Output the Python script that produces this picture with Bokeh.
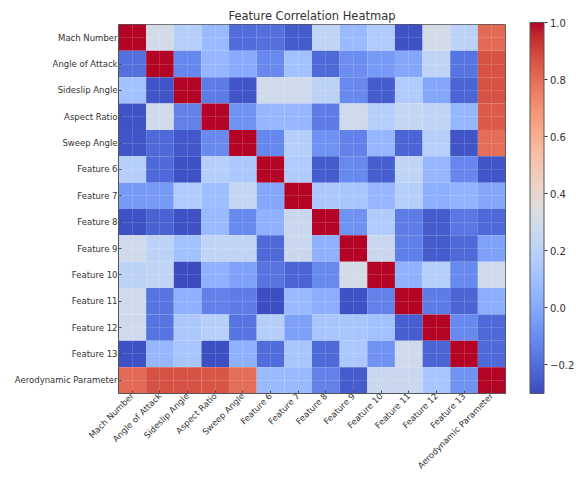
import numpy as np
from math import pi
from bokeh.plotting import figure
from bokeh.models import (LinearColorMapper, ColorBar, FixedTicker, CustomJSTickFormatter,
                          Label, ColumnDataSource)
from bokeh.transform import transform
from bokeh.embed import file_html
from bokeh.resources import INLINE

features = ["Mach Number", "Angle of Attack", "Sideslip Angle", "Aspect Ratio", "Sweep Angle",
            "Feature 6", "Feature 7", "Feature 8", "Feature 9", "Feature 10",
            "Feature 11", "Feature 12", "Feature 13", "Aerodynamic Parameter"]

row_mach      = [1.00, 0.30, 0.175, 0.075, -0.20, -0.19, -0.25, 0.22, 0.075, 0.16, -0.28, 0.30, 0.205, 0.81]
row_aoa       = [-0.19, 1.00, -0.12, 0.06, 0.005, -0.11, 0.105, -0.21, -0.095, -0.055, -0.01, 0.22, -0.175, 0.87]
row_sideslip  = [0.105, -0.27, 1.00, -0.155, -0.27, 0.28, 0.28, 0.205, -0.11, -0.25, 0.16, -0.01, -0.225, 0.87]
row_aspect    = [-0.275, 0.28, -0.135, 1.00, -0.08, 0.06, 0.06, -0.155, 0.28, 0.175, 0.24, 0.22, 0.06, 0.85]
row_sweep     = [-0.27, -0.21, -0.26, -0.11, 1.00, -0.12, 0.175, -0.08, -0.135, 0.06, -0.225, 0.19, -0.27, 0.80]
row_f6        = [0.175, -0.21, -0.28, 0.175, 0.145, 1.00, 0.16, -0.25, -0.11, -0.245, 0.22, 0.06, -0.12, -0.27]
row_f7        = [-0.055, -0.055, 0.16, 0.09, 0.24, -0.01, 1.00, 0.145, 0.13, 0.06, 0.175, 0.025, 0.045, -0.01]
row_f8        = [-0.28, -0.23, -0.28, 0.075, -0.11, 0.035, 0.26, 1.00, -0.08, 0.16, -0.155, -0.25, -0.165, -0.21]
row_f9        = [0.28, 0.205, 0.105, 0.22, 0.22, -0.21, 0.26, 0.035, 1.00, 0.26, -0.145, -0.25, -0.21, -0.03]
row_f10       = [0.205, 0.22, -0.30, 0.035, -0.03, -0.175, -0.225, -0.11, 0.30, 1.00, 0.035, 0.175, -0.11, 0.28]
row_f11       = [0.28, -0.175, 0.035, -0.135, -0.155, -0.29, 0.075, 0.015, -0.28, -0.135, 1.00, -0.155, -0.225, 0.015]
row_f12       = [0.28, -0.175, 0.145, 0.19, -0.175, 0.175, -0.035, 0.13, 0.13, 0.105, -0.245, 1.00, -0.11, -0.21]
row_f13       = [-0.28, 0.06, 0.13, -0.285, 0.035, -0.20, 0.13, -0.21, 0.145, -0.08, 0.28, -0.225, 1.00, -0.21]
row_aero      = [0.81, 0.87, 0.87, 0.86, 0.80, 0.075, 0.075, -0.135, -0.25, 0.26, 0.26, 0.13, -0.08, 1.00]

rows = [row_mach, row_aoa, row_sideslip, row_aspect, row_sweep, row_f6, row_f7, row_f8,
        row_f9, row_f10, row_f11, row_f12, row_f13, row_aero]

colorbar_ticks = [-0.2, 0.0, 0.2, 0.4, 0.6, 0.8, 1.0]

# coolwarm colormap (Moreland diverging) control points
_cw = [(59, 76, 192), (68, 90, 204), (77, 104, 215), (87, 117, 225), (98, 130, 234),
       (108, 142, 241), (119, 154, 247), (130, 165, 251), (141, 176, 254), (152, 185, 255),
       (163, 194, 255), (174, 201, 253), (184, 208, 249), (194, 213, 244), (204, 217, 238),
       (213, 219, 230), (221, 221, 221), (229, 216, 209), (236, 211, 197), (241, 204, 185),
       (245, 196, 173), (247, 187, 160), (247, 177, 148), (247, 166, 135), (244, 154, 123),
       (241, 141, 111), (236, 127, 99), (229, 112, 88), (222, 96, 77), (213, 80, 66),
       (203, 62, 56), (192, 40, 47), (180, 4, 38)]
_cw = np.array(_cw, dtype=float)
_t = np.linspace(0, 1, len(_cw))
_tt = np.linspace(0, 1, 256)
coolwarm = ["#%02x%02x%02x" % tuple(int(round(np.interp(t, _t, _cw[:, k]))) for k in range(3))
            for t in _tt]

xs, ys, vals = [], [], []
for i, r in enumerate(rows):
    for j, v in enumerate(r):
        xs.append(features[j])
        ys.append(features[i])
        vals.append(v)
source = ColumnDataSource(dict(x=xs, y=ys, v=vals))

vmin = min(vals)
mapper = LinearColorMapper(palette=coolwarm, low=vmin, high=1.0)

p = figure(width=582, height=477, x_range=features, y_range=list(reversed(features)),
           output_backend="svg", toolbar_location=None,
           min_border_left=118, min_border_right=77, min_border_top=24, min_border_bottom=82)

p.rect(x="x", y="y", width=1, height=1, source=source,
       fill_color=transform("v", mapper), line_color=None)

p.title.text = "Feature Correlation Heatmap"
p.title.align = "center"
p.title.text_font = "DejaVu Sans"
p.title.text_font_size = "11.5px"
p.title.text_font_style = "normal"
p.title.text_color = "#333333"
p.title.standoff = 4
p.title.offset = 0

for ax in (p.xaxis[0], p.yaxis[0]):
    ax.major_label_text_font = "DejaVu Sans"
    ax.major_label_text_font_size = "8.5px"
    ax.major_label_text_color = "#333333"
    ax.major_tick_in = 3
    ax.major_tick_out = 0
    ax.major_tick_line_color = "#333333"
    ax.axis_line_color = "#555555"
    ax.major_label_standoff = 1
p.xaxis.major_label_orientation = pi / 4

p.xgrid.grid_line_color = "white"
p.ygrid.grid_line_color = "white"
p.xgrid.grid_line_alpha = 0.35
p.ygrid.grid_line_alpha = 0.35
p.xgrid.grid_line_width = 0.6
p.ygrid.grid_line_width = 0.6
p.xgrid.grid_line_dash = "2 1"
p.ygrid.grid_line_dash = "2 1"
p.xgrid.level = "overlay"
p.ygrid.level = "overlay"
p.outline_line_color = "#555555"
p.background_fill_color = "white"

cb = ColorBar(color_mapper=mapper, width=14, height=371, margin=0, padding=0,
              location=(411.5, 0),
              ticker=FixedTicker(ticks=colorbar_ticks),
              formatter=CustomJSTickFormatter(code="return tick < 0 ? '\u2212' + Math.abs(tick).toFixed(1) : tick.toFixed(1);"),
              major_label_text_font="DejaVu Sans", major_label_text_font_size="10px",
              major_label_text_color="#333333",
              major_tick_in=0, major_tick_out=3, major_tick_line_color="#333333",
              bar_line_color="#555555", border_line_color=None, background_fill_color=None,
              label_standoff=3)
p.add_layout(cb)

cb_title = Label(x=576, y=213, x_units="canvas", y_units="canvas",
                 text="Correlation Coefficient", angle=pi / 2,
                 text_font="DejaVu Sans", text_font_size="10px", text_color="#333333",
                 text_align="center", text_baseline="middle")
p.add_layout(cb_title)

open("out.html", "w").write(file_html(p, INLINE))
